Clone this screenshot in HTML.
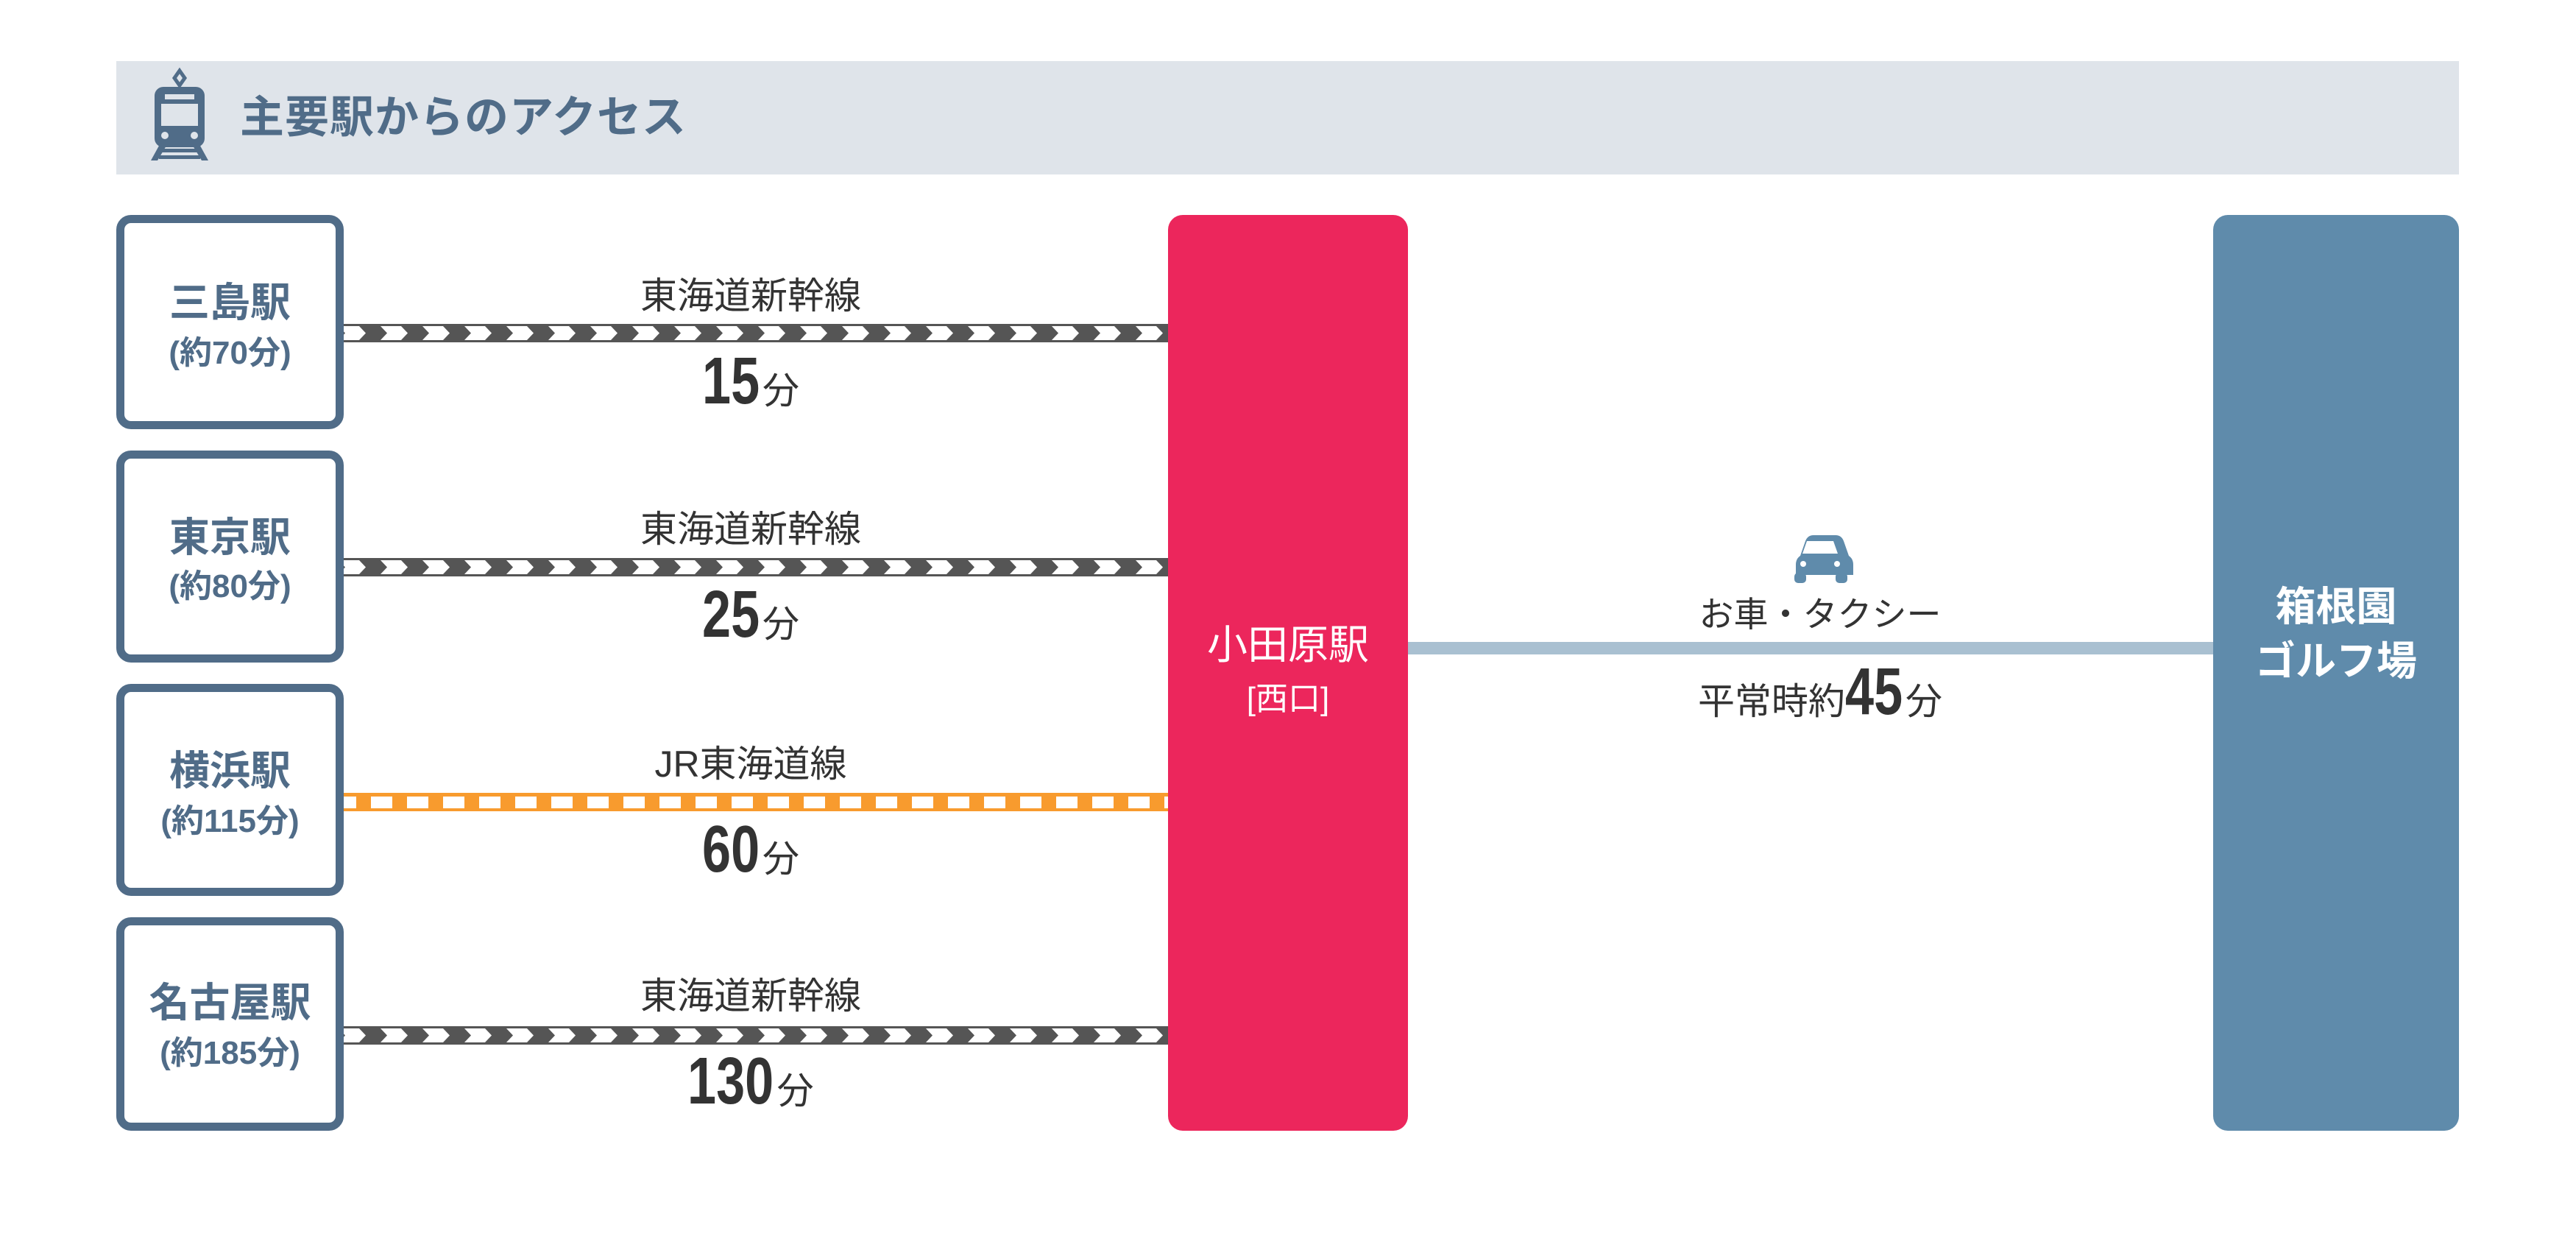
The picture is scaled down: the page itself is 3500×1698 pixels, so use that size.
<!DOCTYPE html>
<html><head><meta charset="utf-8"><style>
*{margin:0;padding:0;box-sizing:border-box}
body{width:3500px;height:1698px;background:#fff;position:relative;overflow:hidden;font-family:"Liberation Sans","Noto Sans CJK JP",sans-serif}
.a{position:absolute;white-space:nowrap}
.box{position:absolute;left:158px;width:309px;border:11px solid #506c88;border-radius:20px;background:#fff}
.st{position:absolute;left:158px;width:309px;text-align:center;color:#506c88;font-weight:bold}
.lbl{position:absolute;left:820px;width:400px;text-align:center;color:#333;font-size:50px;line-height:60px}
.min{position:absolute;left:820px;width:400px;text-align:center;color:#333;line-height:100px}
.num{display:inline-block;font-weight:bold;font-size:90px;transform:scaleX(0.78);transform-origin:right center;margin-right:4px;vertical-align:baseline}
.n2{margin-left:-22px}
.n3{margin-left:-33px}
.fun{font-size:50px}
</style></head><body>
<div class="a" style="left:158px;top:83px;width:3183px;height:154px;background:#dfe4ea"></div>
<svg class="a" style="left:0;top:0" width="3500" height="1698">
<defs>
<pattern id="chev" patternUnits="userSpaceOnUse" x="517" y="440" width="57" height="25">
<rect width="57" height="25" fill="#555"/>
<polygon points="0,3 28,3 37,12.5 28,22 0,22 9,12.5" fill="#fff"/>
</pattern>
<pattern id="ora" patternUnits="userSpaceOnUse" x="504" y="1077" width="49" height="25">
<rect width="49" height="25" fill="#f89b2e"/>
<rect x="0" y="5" width="29" height="16" fill="#fff"/>
</pattern>
<pattern id="chev2" patternUnits="userSpaceOnUse" x="517" y="758" width="57" height="25">
<rect width="57" height="25" fill="#555"/>
<polygon points="0,3 28,3 37,12.5 28,22 0,22 9,12.5" fill="#fff"/>
</pattern>
<pattern id="chev4" patternUnits="userSpaceOnUse" x="517" y="1394" width="57" height="25">
<rect width="57" height="25" fill="#555"/>
<polygon points="0,3 28,3 37,12.5 28,22 0,22 9,12.5" fill="#fff"/>
</pattern>
</defs>
<rect x="467" y="440" width="1125" height="25" fill="url(#chev)"/>
<rect x="467" y="758" width="1125" height="25" fill="url(#chev2)"/>
<rect x="467" y="1077" width="1125" height="25" fill="url(#ora)"/>
<rect x="467" y="1394" width="1125" height="25" fill="url(#chev4)"/>
<rect x="1910" y="872" width="1100" height="17" fill="#a9c0d1"/>
<g fill="#506c88">
<polygon points="244,96 251,106 244,116 237,106" fill="none" stroke="#506c88" stroke-width="5"/>
<rect x="210" y="118" width="68" height="82" rx="12"/>
<rect x="224" y="128" width="40" height="7" fill="#dfe4ea"/>
<rect x="219" y="141" width="50" height="30" fill="#dfe4ea"/>
<circle cx="224" cy="184" r="5" fill="#dfe4ea"/>
<circle cx="264" cy="184" r="5" fill="#dfe4ea"/>
<polygon points="216,198 226,198 214,218 205,218"/>
<polygon points="272,198 262,198 274,218 283,218"/>
<rect x="220" y="202" width="48" height="5"/>
<rect x="216" y="211" width="56" height="5"/>
</g>
<g fill="#5f8bab">
<path d="M2452,727 h42 q8,0 11,8 l7,20 q6,4 6,12 v14 h-78 v-14 q0,-8 6,-12 l7,-20 q3,-8 11,-8z"/>
<path d="M2455,735 h36 l6,17 h-48z" fill="#fff"/>
<rect x="2438" y="778" width="16" height="14" rx="5"/>
<rect x="2494" y="778" width="16" height="14" rx="5"/>
<circle cx="2450" cy="766" r="4" fill="#fff"/>
<circle cx="2496" cy="766" r="4" fill="#fff"/>
</g>
</svg>
<div class="a" style="left:326px;top:125px;font-size:60px;line-height:70px;color:#506c88;font-weight:bold;letter-spacing:1px">主要駅からのアクセス</div>

<div class="box" style="top:292px;height:291px"></div>
<div class="box" style="top:612px;height:288px"></div>
<div class="box" style="top:929px;height:288px"></div>
<div class="box" style="top:1246px;height:290px"></div>

<div class="st" style="top:381px;font-size:55px;line-height:60px">三島駅</div>
<div class="st" style="top:455px;font-size:44px;line-height:50px">(約70分)</div>
<div class="st" style="top:700px;font-size:55px;line-height:60px">東京駅</div>
<div class="st" style="top:772px;font-size:44px;line-height:50px">(約80分)</div>
<div class="st" style="top:1017px;font-size:55px;line-height:60px">横浜駅</div>
<div class="st" style="top:1091px;font-size:44px;line-height:50px">(約115分)</div>
<div class="st" style="top:1332px;font-size:55px;line-height:60px">名古屋駅</div>
<div class="st" style="top:1406px;font-size:44px;line-height:50px">(約185分)</div>

<div class="lbl" style="top:372px">東海道新幹線</div>
<div class="lbl" style="top:689px">東海道新幹線</div>
<div class="lbl" style="top:1008px">JR東海道線</div>
<div class="lbl" style="top:1323px">東海道新幹線</div>

<div class="min" style="top:468px"><span class="num n2">15</span><span class="fun">分</span></div>
<div class="min" style="top:785px"><span class="num n2">25</span><span class="fun">分</span></div>
<div class="min" style="top:1104px"><span class="num n2">60</span><span class="fun">分</span></div>
<div class="min" style="top:1419px"><span class="num n3">130</span><span class="fun">分</span></div>

<div class="a" style="left:1587px;top:292px;width:326px;height:1244px;background:#ec265c;border-radius:20px"></div>
<div class="a" style="left:1587px;top:846px;width:326px;text-align:center;color:#fff;font-size:55px;line-height:60px">小田原駅</div>
<div class="a" style="left:1587px;top:925px;width:326px;text-align:center;color:#fff;font-size:44px;line-height:50px">[西口]</div>

<div class="a" style="left:3007px;top:292px;width:334px;height:1244px;background:#5f8bab;border-radius:20px"></div>
<div class="a" style="left:3007px;top:794px;width:334px;text-align:center;color:#fff;font-size:55px;line-height:60px;font-weight:bold">箱根園</div>
<div class="a" style="left:3007px;top:868px;width:334px;text-align:center;color:#fff;font-size:55px;line-height:60px;font-weight:bold">ゴルフ場</div>

<div class="a" style="left:2273px;top:807px;width:400px;text-align:center;color:#333;font-size:47px;line-height:56px">お車・タクシー</div>
<div class="a" style="left:2223px;top:890px;width:500px;text-align:center;color:#333;line-height:100px"><span style="font-size:50px">平常時約</span><span class="num n2">45</span><span class="fun">分</span></div>
</body></html>
